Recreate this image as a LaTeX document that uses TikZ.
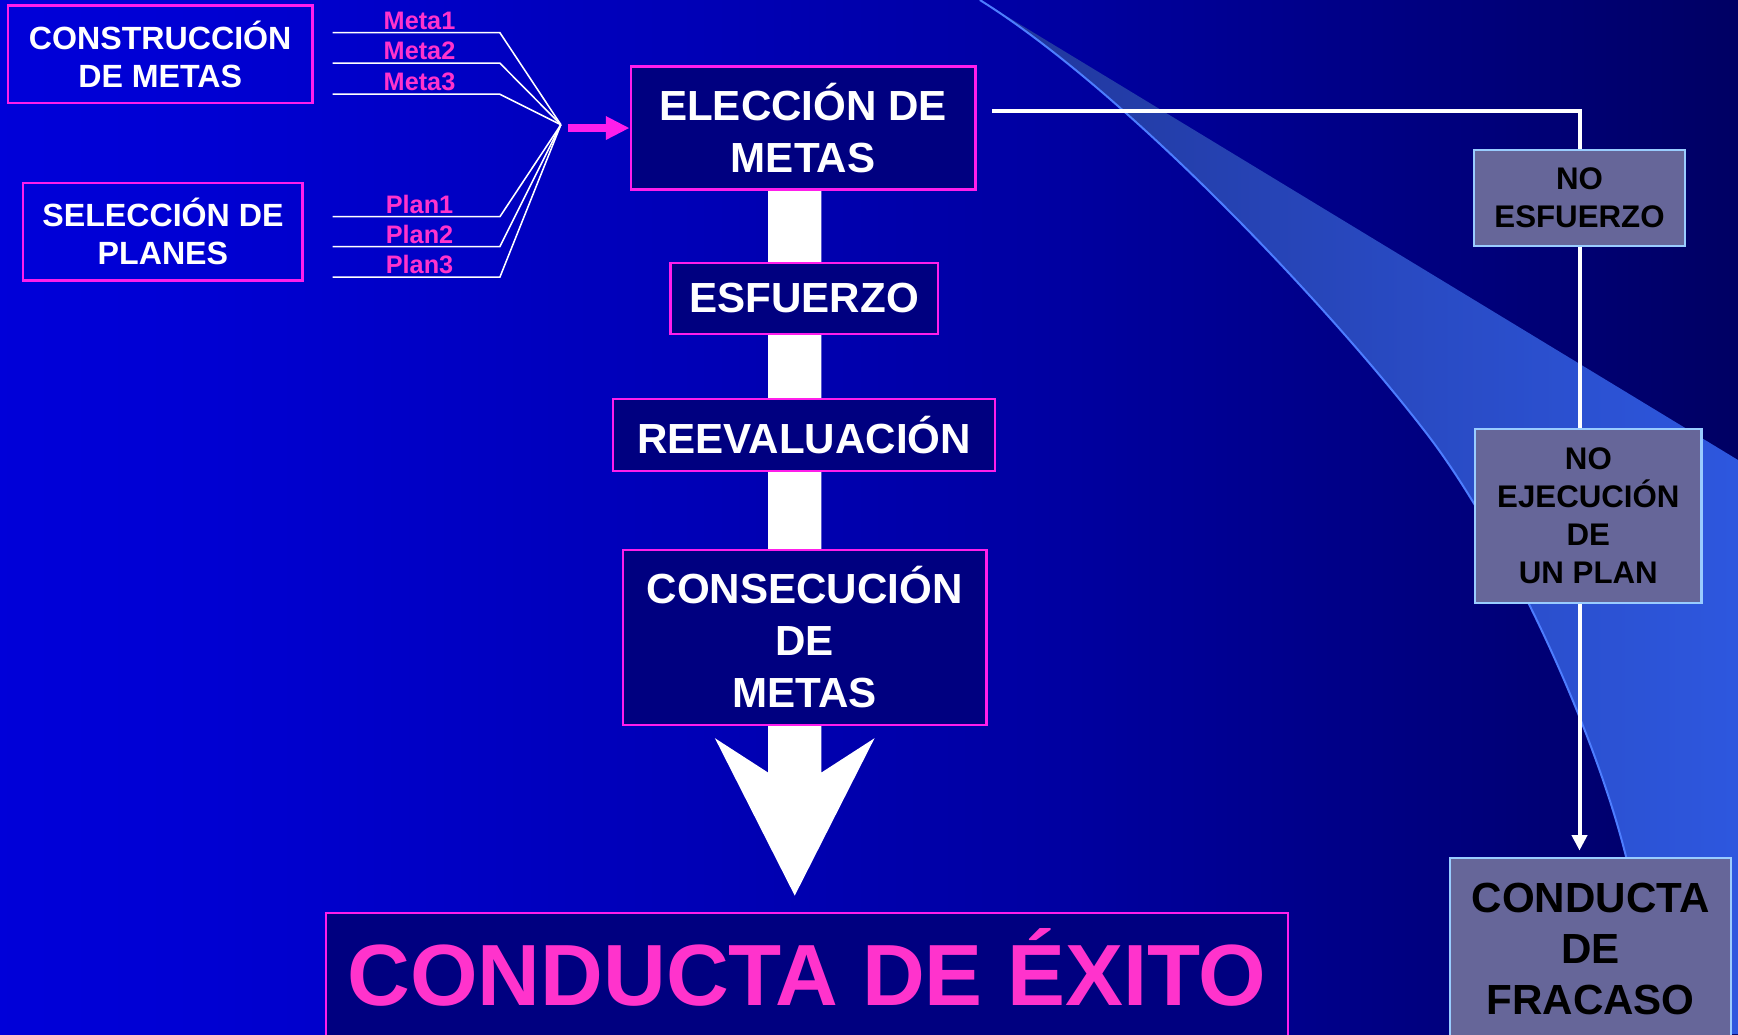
\documentclass[tikz,border=0pt]{standalone}
\usepackage{fontspec}
\setmainfont{Liberation Sans}
\usetikzlibrary{arrows.meta,calc}
\definecolor{bgA}{RGB}{0,0,240}
\definecolor{bgB}{RGB}{0,0,212}
\definecolor{bgC}{RGB}{0,0,162}
\definecolor{bgD}{RGB}{0,0,84}
\definecolor{bgE}{RGB}{0,0,32}
\definecolor{bandA}{RGB}{24,34,118}
\definecolor{bandB}{RGB}{40,72,190}
\definecolor{bandC}{RGB}{51,102,255}
\definecolor{bandedge}{RGB}{77,125,255}
\definecolor{magframe}{RGB}{255,30,235}
\definecolor{exitopink}{RGB}{255,51,204}
\definecolor{navybox}{RGB}{0,0,128}
\definecolor{greybox}{RGB}{102,102,153}
\definecolor{paleframe}{RGB}{153,204,255}
\pgfdeclarehorizontalshading{bgshade}{100bp}{color(0bp)=(bgA); color(30bp)=(bgB); color(55bp)=(bgC); color(80bp)=(bgD); color(100bp)=(bgE)}
\pgfdeclarehorizontalshading{bandshade}{100bp}{color(0bp)=(bandA); color(50bp)=(bandB); color(100bp)=(bandC)}
\pgfdeclarelayer{back}
\pgfsetlayers{back,main}
\begin{document}
\begin{tikzpicture}[x=0.5pt,y=-0.5pt,
  lbox/.style={draw=magframe, line width=1pt, text=white, align=center, inner sep=0pt, font=\bfseries\fontsize{14.5}{17}\selectfont},
  cbox/.style={draw=magframe, fill=navybox, line width=1pt, text=white, align=center, inner sep=0pt, font=\bfseries\fontsize{19}{23.5}\selectfont},
  rbox/.style={draw=paleframe, fill=greybox, line width=1pt, text=black, align=center, inner sep=0pt, font=\bfseries\fontsize{14.1}{17.2}\selectfont},
  fanline/.style={draw=white, line width=0.7pt},
  tag/.style={text=exitopink, inner sep=1pt, font=\bfseries\fontsize{11.4}{13}\selectfont},
  wline/.style={draw=white, line width=1.8pt},
]
\useasboundingbox (0,0) rectangle (1568,933);

% left boxes
\node[lbox, minimum width=137.5pt, minimum height=44pt] (constr) at (144.5,49) {CONSTRUCCIÓN\\DE METAS};
\node[lbox, minimum width=126pt, minimum height=44pt] (selec) at (147,209) {SELECCIÓN DE\\PLANES};

% central column
\node[cbox, minimum width=155.5pt, minimum height=55.5pt] (elec) at (724.5,115.5) {ELECCIÓN DE\\METAS};
\node[cbox, minimum width=120.5pt, minimum height=32pt] (esf) at (725.5,269) {ESFUERZO};
\node[cbox, minimum width=172.5pt, minimum height=32.5pt] (reev) at (725.5,392.5) {REEVALUACIÓN};
\node[cbox, minimum width=164pt, minimum height=79pt] (conse) at (726,575) {CONSECUCIÓN\\DE\\METAS};
\node[cbox, minimum width=434pt, minimum height=55.5pt, text=exitopink, text height=28pt, text depth=0pt, font=\bfseries\fontsize{39.2}{44}\selectfont] (exito) at (728,879.5) {CONDUCTA DE ÉXITO};

% right column
\node[rbox, minimum width=95pt, minimum height=43.5pt] (noesf) at (1425,178.5) {NO\\ESFUERZO};
\node[rbox, minimum width=102pt, minimum height=78.5pt] (noejec) at (1433,465.5) {NO\\EJECUCIÓN\\DE\\UN PLAN};
\node[rbox, minimum width=127pt, minimum height=82pt, font=\bfseries\fontsize{19}{23}\selectfont] (fracaso) at (1435,856) {CONDUCTA\\DE\\FRACASO};

% fan of goals and plans
\coordinate (fan) at (506,112.5);
\foreach \y/\t [count=\i] in {29.5/Meta1,57/Meta2,85/Meta3,195.5/Plan1,222.5/Plan2,250/Plan3}{
  \coordinate (s\i) at (300,\y);
  \coordinate (k\i) at (451,\y);
  \draw[fanline] (s\i) -- node[tag, above, xshift=1.5pt] (t\i) {\t} (k\i) -- (fan);
}
\draw[magframe, line width=3.3pt, -{Triangle[length=10.75pt,width=10pt]}] ($(fan)+(6,3)$) -- (elec.west);

% failure path
\draw[wline] ($(elec.east)+(14,-15.5)$) -| (noesf.north);
\draw[wline] (noesf.south) -- (noesf.south |- noejec.north);
\draw[wline, -{Triangle[length=7pt,width=6.75pt]}, shorten >=2.8pt] (noesf.south |- noejec.south) -- (noesf.south |- fracaso.north);

\begin{pgfonlayer}{back}
  \shade[shading=bgshade] (0,0) rectangle (1568,933);
  \shade[shading=bandshade] (884,0) -- (1568,415) -- (1568,933) -- (1490,933) -- (1467,773)
     .. controls (1437,653) and (1357,482) .. (1287,391)
     .. controls (1197,274) and (1014,81) .. (884,0) -- cycle;
  \draw[bandedge, line width=0.9pt] (884,0) .. controls (1014,81) and (1197,274) .. (1287,391)
     .. controls (1357,482) and (1437,653) .. (1467,773) -- (1490,933);
  % big success arrow
  \fill[white] ($(elec.south)+(-31.5,0)$) -- (693,697) -- (645,666) -- (717,808) coordinate (tip) -- (789,666) -- (741,697) -- ($(elec.south)+(16.5,0)$) -- cycle;
\end{pgfonlayer}
\end{tikzpicture}
\end{document}
